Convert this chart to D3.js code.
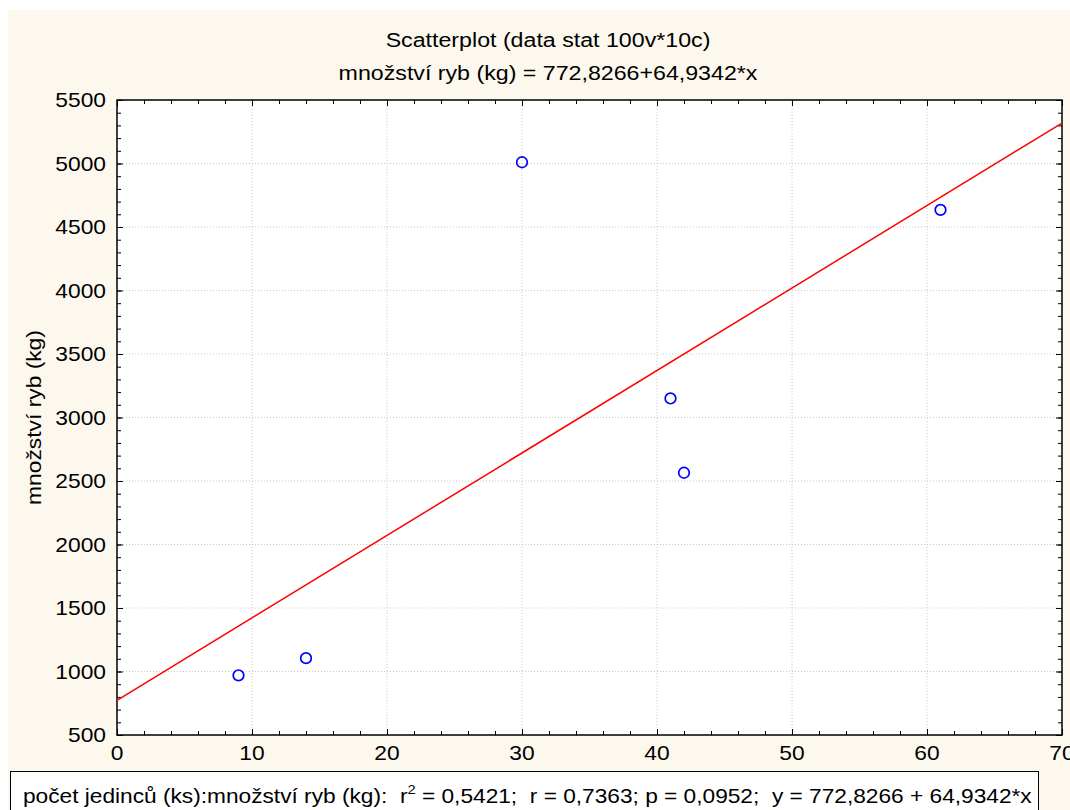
<!DOCTYPE html>
<html><head><meta charset="utf-8">
<script src="https://cdn.jsdelivr.net/npm/d3@7"></script>
<style>body{margin:0;background:#fff}svg{display:block;font-family:Arial,"Liberation Sans",sans-serif}text{white-space:pre}</style>
</head><body><svg id="c" width="1070" height="810"></svg>
<script>
const xVals = [9, 14, 30, 41, 42, 61];
const yVals = [970, 1105, 5010, 3150, 2565, 4635];
const intercept = 772.8266, slope = 64.9342;
const xTicks = [0, 10, 20, 30, 40, 50, 60, 70];
const yTicks = [500, 1000, 1500, 2000, 2500, 3000, 3500, 4000, 4500, 5000, 5500];
const title = "Scatterplot (data stat 100v*10c)";
const subtitle = "množství ryb (kg) = 772,8266+64,9342*x";
const yLabel = "množství ryb (kg)";

const svg = d3.select("#c");
const L = 117, R = 1062, T = 100, B = 735;
const SX = 1.14;
svg.append("rect").attr("x", 8).attr("y", 10).attr("width", 1062).attr("height", 800).attr("fill", "#fdf8ee");
svg.append("rect").attr("x", L).attr("y", T).attr("width", R - L).attr("height", B - T).attr("fill", "#fff");

const x = d3.scaleLinear().domain([0, 70]).range([L, R]);
const y = d3.scaleLinear().domain([500, 5500]).range([B, T]);

// grid
const g = svg.append("g").attr("stroke", "#c8c8c8").attr("stroke-dasharray", "1,2").attr("stroke-width", 1);
xTicks.slice(1, -1).forEach(v => g.append("line").attr("x1", x(v)).attr("x2", x(v)).attr("y1", T).attr("y2", B));
yTicks.slice(1, -1).forEach(v => g.append("line").attr("y1", y(v)).attr("y2", y(v)).attr("x1", L).attr("x2", R));

// axes with inward ticks
const minorX = d3.range(0, 70.01, 2), minorY = d3.range(500, 5500.01, 100);
const ax = (gen, tr) => svg.append("g").attr("transform", tr).call(gen).call(s => s.select(".domain").remove()).call(s => s.selectAll("line").attr("stroke", "#000"));
ax(d3.axisTop(x).tickValues(minorX).tickSize(4).tickFormat(""), `translate(0,${B})`);
ax(d3.axisBottom(x).tickValues(minorX).tickSize(4).tickFormat(""), `translate(0,${T})`);
ax(d3.axisRight(y).tickValues(minorY).tickSize(4).tickFormat(""), `translate(${L},0)`);
ax(d3.axisLeft(y).tickValues(minorY).tickSize(4).tickFormat(""), `translate(${R},0)`);
ax(d3.axisTop(x).tickValues(xTicks).tickSize(6).tickFormat(""), `translate(0,${B})`);
ax(d3.axisBottom(x).tickValues(xTicks).tickSize(6).tickFormat(""), `translate(0,${T})`);
ax(d3.axisRight(y).tickValues(yTicks).tickSize(6).tickFormat(""), `translate(${L},0)`);
ax(d3.axisLeft(y).tickValues(yTicks).tickSize(6).tickFormat(""), `translate(${R},0)`);

svg.append("rect").attr("x", L).attr("y", T).attr("width", R - L).attr("height", B - T).attr("fill", "none").attr("stroke", "#000").attr("stroke-width", 1.5);

// labels
svg.append("g").selectAll("text").data(xTicks).join("text")
  .attr("transform", d => `translate(${x(d)},${B + 25}) scale(${SX},1)`).attr("text-anchor", "middle").attr("font-size", 20).text(d => d);
svg.append("g").selectAll("text").data(yTicks).join("text")
  .attr("transform", d => `translate(${L - 11},${y(d) + 7}) scale(${SX},1)`).attr("text-anchor", "end").attr("font-size", 20).text(d => d);

// regression line
svg.append("clipPath").attr("id", "cp").append("rect").attr("x", L).attr("y", T).attr("width", R - L).attr("height", B - T);
svg.append("line").attr("clip-path", "url(#cp)")
  .attr("x1", x(0)).attr("y1", y(intercept)).attr("x2", x(70)).attr("y2", y(intercept + slope * 70))
  .attr("stroke", "#ff0000").attr("stroke-width", 1.5);

// points
svg.append("g").selectAll("circle").data(xVals.map((v, i) => [v, yVals[i]])).join("circle")
  .attr("cx", d => x(d[0])).attr("cy", d => y(d[1])).attr("r", 5.3)
  .attr("fill", "none").attr("stroke", "#0000ff").attr("stroke-width", 1.7);

// titles
svg.append("text").attr("transform", `translate(548,47) scale(${SX + 0.02},1)`).attr("text-anchor", "middle").attr("font-size", 20).text(title);
svg.append("text").attr("transform", `translate(548,80) scale(${SX + 0.02},1)`).attr("text-anchor", "middle").attr("font-size", 20).text(subtitle);
svg.append("text").attr("transform", `translate(41,${(T + B) / 2}) rotate(-90) scale(${SX},1)`).attr("text-anchor", "middle").attr("font-size", 20).text(yLabel);

// legend box
svg.append("rect").attr("x", 10.5).attr("y", 771.5).attr("width", 1028).attr("height", 45).attr("fill", "#fff").attr("stroke", "#000");
const lt = svg.append("text").attr("transform", `translate(23,803) scale(1.135,1)`).attr("font-size", 20);
lt.append("tspan").text("počet jedinců (ks):množství ryb (kg):  r");
lt.append("tspan").attr("font-size", 13).attr("dy", -9).text("2");
lt.append("tspan").attr("dy", 9).text(" = 0,5421;  r = 0,7363; p = 0,0952;  y = 772,8266 + 64,9342*x");
</script></body></html>
